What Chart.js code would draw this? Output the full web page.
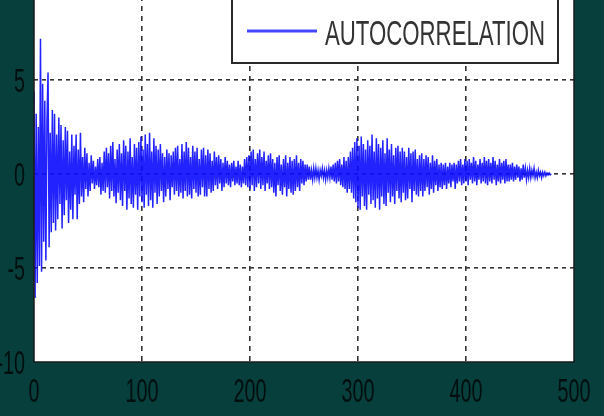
<!DOCTYPE html>
<html>
<head>
<meta charset="utf-8">
<script src="https://cdn.jsdelivr.net/npm/chart.js@4/dist/chart.umd.min.js"></script>
<style>
  html, body { margin: 0; padding: 0; background: #073f3c; overflow: hidden; }
  body { width: 604px; height: 416px; position: relative; }
  #acf { position: absolute; left: 0; top: -14px; }
</style>
</head>
<body>
<canvas id="acf" width="604" height="430"></canvas>
<script>
// autocorrelation values, lag 0..479
const acfValues = [
  4.4, -6.6, 3.2, -5.8, 2.5, -4.9, 7.2, -5.2, 4.8, -3.6, 3.9, -4.6, 2.8, 5.4, -3.9, 2.2, -3.1, 3.4, -2.6, 3.2,
  -3.0, 2.1, -2.4, 3.0, -1.6, 2.6, -2.9, 1.8, -2.2, 2.5, -1.4, 2.3, -2.6, 1.2, -1.9, 2.1, -2.4, 1.5, -1.1, 2.1,
  -2.4, 1.3, -1.6, 2.2, -1.2, 0.9, -1.5, 1.4, -0.8, 1.1, -1.2, 0.6, -0.9, 1.0, -0.5, 0.7, -0.8, 0.4, -0.6, 0.8,
  -0.7, 0.9, -1.1, 0.6, -0.9, 1.2, -1.0, 1.4, -0.7, 1.1, -1.3, 1.5, -0.9, 1.7, -1.2, 0.8, -1.55, 1.3, -1.0, 1.6,
  -1.4, 1.1, -1.7, 1.8, -0.9, 1.5, -1.9, 1.2, -1.3, 1.9, -1.6, 0.9, -1.8, 1.6, -1.1, 1.4, -1.9, 1.7, -1.2, 2.0,
  -1.5, 1.3, -1.8, 2.1, -1.1, 1.6, -1.7, 2.2, -1.4, 1.2, -1.8, 1.9, -1.0, 1.5, -1.6, 1.3, -1.2, 1.6, -0.9, 1.1,
  -1.5, 0.9, -1.2, 1.3, -0.8, 1.1, -1.4, 1.0, -0.7, 1.2, -1.1, 1.4, -0.9, 1.5, -1.2, 0.8, -1.0, 1.6, -1.3, 1.2,
  -0.9, 1.7, -1.2, 1.4, -1.1, 0.9, -1.3, 1.5, -0.8, 1.2, -1.0, 1.4, -1.2, 0.8, -1.1, 1.3, -0.7, 1.4, -1.2, 1.0,
  -1.2, 1.3, -0.8, 1.1, -1.0, 0.7, -0.9, 1.2, -0.6, 0.9, -0.8, 1.0, -0.5, 0.8, -0.9, 0.6, -0.7, 0.9, -0.5, 0.7,
  -0.6, 0.5, -0.7, 0.6, -0.4, 0.7, -0.6, 0.4, -0.5, 0.7, -0.6, 0.5, -0.7, 0.4, -0.5, 0.8, -0.6, 0.9, -0.7, 1.0,
  -0.8, 1.2, -0.6, 1.3, -0.9, 0.8, -0.7, 1.1, -0.5, 1.3, -0.8, 0.9, -0.6, 1.2, -0.9, 0.7, -0.5, 1.0, -0.8, 1.1,
  -0.7, 0.8, -1.0, 0.6, -1.2, 0.9, -0.6, 1.0, -0.9, 0.5, -1.1, 0.8, -0.7, 1.0, -1.2, 0.6, -0.8, 0.9, -1.0, 0.7,
  -1.1, 0.8, -0.9, 1.0, -0.7, 0.6, -0.9, 0.8, -0.5, 0.7, -0.6, 0.5, -0.4, 0.5, -0.3, 0.4, -0.3, 0.2, -0.3, 0.3,
  -0.2, 0.3, -0.2, 0.2, -0.3, 0.2, -0.1, 0.3, -0.2, 0.2, -0.3, 0.2, -0.2, 0.3, -0.2, 0.4, -0.3, 0.5, -0.4, 0.6,
  -0.5, 0.7, -0.4, 0.8, -0.6, 0.5, -0.7, 0.9, -0.8, 0.7, -1.0, 0.9, -0.8, 1.2, -1.0, 1.4, -1.3, 1.7, -1.5, 1.9,
  -1.8, 1.5, -1.9, 2.0, -1.2, 1.6, -1.7, 1.3, -1.9, 1.8, -1.1, 1.5, -1.6, 2.1, -1.4, 1.2, -1.8, 1.9, -1.3, 1.6,
  -1.9, 1.4, -1.2, 1.8, -1.6, 1.1, -1.7, 1.9, -1.0, 1.3, -1.5, 1.6, -1.2, 1.0, -1.6, 1.4, -0.9, 1.5, -1.3, 1.2,
  -1.5, 1.4, -1.0, 1.2, -1.4, 0.9, -1.3, 1.4, -0.8, 1.1, -1.5, 1.2, -0.9, 1.3, -1.1, 0.8, -1.2, 1.0, -0.9, 1.1,
  -1.2, 0.8, -0.9, 1.0, -0.7, 0.9, -1.1, 0.6, -0.8, 1.0, -1.0, 0.7, -0.6, 0.8, -0.9, 0.5, -0.7, 0.6, -0.8, 0.5,
  -0.6, 0.6, -0.8, 0.4, -0.5, 0.6, -0.7, 0.5, -0.4, 0.6, -0.8, 0.5, -0.5, 0.7, -0.4, 0.8, -0.6, 0.5, -0.5, 0.8,
  -0.4, 0.7, -0.6, 0.8, -0.3, 0.6, -0.5, 0.9, -0.4, 0.7, -0.6, 0.5, -0.3, 0.8, -0.5, 0.6, -0.4, 0.9, -0.5, 0.7,
  -0.6, 0.8, -0.4, 0.6, -0.5, 0.9, -0.3, 0.7, -0.6, 0.5, -0.4, 0.8, -0.5, 0.6, -0.3, 0.7, -0.5, 0.8, -0.4, 0.5,
  -0.4, 0.5, -0.3, 0.6, -0.4, 0.4, -0.3, 0.5, -0.2, 0.4, -0.4, 0.3, -0.3, 0.5, -0.2, 0.3, -0.3, 0.2, -0.2, 0.3,
  -0.2, 0.2, -0.1, 0.3, -0.2, 0.1, -0.2, 0.2, -0.1, 0.1, -0.2, 0.1, -0.1, 0.1, -0.1, 0.05, -0.05, 0.05, -0.05, 0.0
];
const xTicks = [0, 100, 200, 300, 400, 500];
const yTicks = [-10, -5, 0, 5, 10];
const seriesName = "AUTOCORRELATION";

const points = acfValues.map((v, i) => ({ x: i, y: v }));

// matlab-ish look: white plot box, condensed labels, boxed legend
const matlabFrame = {
    id: "matlabFrame",
    beforeDraw(chart) {
        const { ctx, chartArea: a } = chart;
        ctx.save();
        ctx.fillStyle = "#ffffff";
        ctx.fillRect(a.left, a.top, a.right - a.left, a.bottom - a.top);
        ctx.restore();
    },
    afterDraw(chart) {
        const { ctx, chartArea: a } = chart;
        const xs = chart.scales.x, ys = chart.scales.y;

        ctx.save();
        ctx.strokeStyle = "#1a1a1a";
        ctx.lineWidth = 1.5;
        ctx.strokeRect(a.left, a.top, a.right - a.left, a.bottom - a.top);

        // tick labels (squeezed like the original)
        ctx.fillStyle = "#020f0e";
        ctx.font = "33px 'Liberation Sans', Arial, sans-serif";
        ctx.textBaseline = "alphabetic";
        yTicks.forEach(t => {
            const y = ys.getPixelForValue(t);
            ctx.save();
            ctx.translate(25, y + 12);
            ctx.scale(0.6, 1);
            ctx.textAlign = "right";
            ctx.fillText(String(t), 0, 0);
            ctx.restore();
        });
        xTicks.forEach(t => {
            const x = xs.getPixelForValue(t);
            ctx.save();
            ctx.translate(x, a.bottom + 40);
            ctx.scale(0.6, 1);
            ctx.textAlign = "center";
            ctx.fillText(String(t), 0, 0);
            ctx.restore();
        });

        // legend box
        const lx = 232, rx = 558, by = 77;
        ctx.fillStyle = "#ffffff";
        ctx.fillRect(lx, 0, rx - lx, by);
        ctx.strokeStyle = "#2a2a2a";
        ctx.lineWidth = 2;
        ctx.strokeRect(lx, -4, rx - lx, by + 4);
        ctx.strokeStyle = "#4646ff";
        ctx.lineWidth = 3;
        ctx.beginPath();
        ctx.moveTo(247, 45);
        ctx.lineTo(317, 45);
        ctx.stroke();
        ctx.fillStyle = "#333333";
        ctx.font = "35px 'Liberation Sans', Arial, sans-serif";
        ctx.textAlign = "left";
        ctx.fillText(seriesName, 325, 59, 220);
        ctx.restore();
    }
};

const gridColor = (edge) => (c) =>
    (c.tick && edge.includes(c.tick.value)) ? "rgba(0,0,0,0)" : "#333333";

new Chart(document.getElementById("acf"), {
    type: "line",
    data: {
        datasets: [{
            label: seriesName,
            data: points,
            borderColor: "rgba(10,10,255,0.9)",
            borderWidth: 1.5,
            pointRadius: 0,
            tension: 0
        }]
    },
    options: {
        responsive: false,
        animation: false,
        layout: { padding: { left: 34, right: 30, top: 0, bottom: 54 } },
        scales: {
            x: {
                type: "linear",
                min: 0,
                max: 500,
                ticks: { display: false, stepSize: 100 },
                grid: { color: gridColor([0, 500]), lineWidth: 1.6, drawTicks: false },
                border: { display: false, dash: [5, 5] }
            },
            y: {
                min: -10,
                max: 10,
                ticks: { display: false, stepSize: 5 },
                grid: { color: gridColor([-10, 10]), lineWidth: 1.6, drawTicks: false },
                border: { display: false, dash: [4, 4] }
            }
        },
        plugins: {
            legend: { display: false },
            tooltip: { enabled: false }
        }
    },
    plugins: [matlabFrame]
});
</script>
</body>
</html>
